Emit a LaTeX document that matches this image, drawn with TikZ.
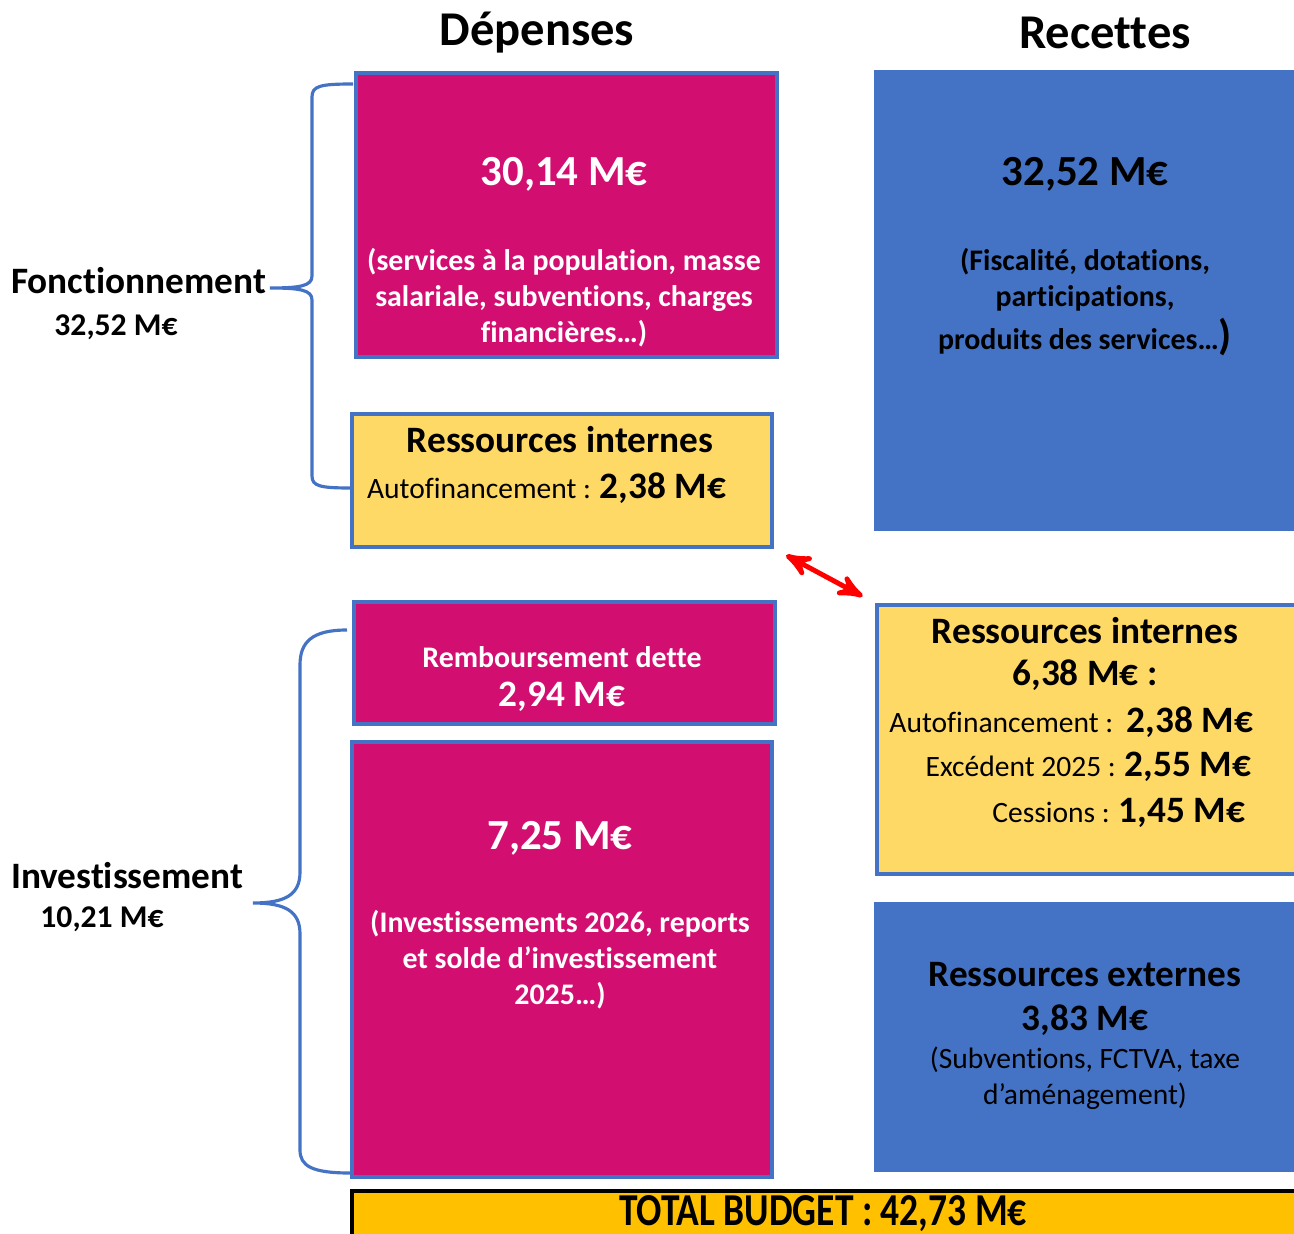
\documentclass[tikz,border=0pt]{standalone}
\usepackage{fontspec}
\setmainfont[Ligatures=NoCommon]{Carlito}
\usetikzlibrary{arrows, calc, positioning}

\definecolor{depmag}{HTML}{D20F70}
\definecolor{recblue}{HTML}{4472C4}
\definecolor{resyel}{HTML}{FFD966}
\definecolor{totyel}{HTML}{FFC000}

\begin{document}
\begin{tikzpicture}[x=0.01cm, y=-0.01cm, >=stealth', semithick,
  box/.style={draw=recblue, line width=1pt, inner sep=0pt, anchor=north west},
  depbox/.style={box, fill=depmag},
  recbox/.style={box, fill=recblue},
  resbox/.style={box, fill=resyel},
  title/.style={font=\fontsize{13.8}{16}\bfseries\selectfont},
  big/.style={font=\fontsize{12.2}{14}\bfseries\selectfont},
  mid/.style={font=\fontsize{10.6}{13}\bfseries\selectfont},
  small/.style={font=\fontsize{8.5}{10.2}\bfseries\selectfont, align=center},
  plain/.style={font=\fontsize{8.4}{10.2}\selectfont, align=center},
  brace/.style={draw=recblue, line width=0.9pt},
  white/.style={text=white}]

  \useasboundingbox (0,0) rectangle (1294,1234);

  % column titles
  \node[title] (dep) at (537,33) {Dépenses};
  \node[title] (rec) at (1105,33) {Recettes};

  % depenses
  \node[depbox, minimum width=4.21cm, minimum height=2.84cm] (fonct) at (354,71) {};
  \node[resbox, minimum width=4.20cm, minimum height=1.33cm] (intl) at (350,412) {};
  \node[depbox, minimum width=4.21cm, minimum height=1.22cm] (dette) at (352,600) {};
  \node[depbox, minimum width=4.20cm, minimum height=4.35cm] (invd) at (350,740) {};

  % recettes
  \node[recbox, minimum width=4.20cm, minimum height=4.57cm] (frec) at (874,70) {};
  \node[resbox, minimum width=4.19cm, minimum height=2.69cm] (intr) at (875,603) {};
  \node[recbox, minimum width=4.20cm, minimum height=2.66cm] (extr) at (874,902) {};

  % total
  \node[box, draw=black, fill=totyel, minimum width=9.44cm, minimum height=0.60cm] (total) at (350,1189) {};
  \node[font=\fontsize{13}{15}\bfseries\selectfont] (totaltxt) at (823,1214)
    {\scalebox{0.82}[1]{TOTAL BUDGET : 42,73 M€}};

  % texts, depenses
  \node[big, white] (v1) at (564,174) {30,14 M€};
  \node[small, white] (t1) at (564,298) {(services à la population, masse\\salariale, subventions, charges\\financières…)};
  \node[mid] (rl) at (560,440) {Ressources internes};
  \node[plain, anchor=west, inner sep=0pt] (afl) at (366,488) {Autofinancement : \textbf{\fontsize{10.6}{13}\selectfont 2,38 M€}};
  \node[small, white] (rd) at (562,657) {Remboursement dette};
  \node[mid, white] (vd) at (562,697) {2,94 M€};
  \node[big, white] (v2) at (560,838) {7,25 M€};
  \node[small, white] (t2) at (560,960) {(Investissements 2026, reports\\et solde d’investissement\\2025…)};

  % texts, recettes
  \node[big] (v3) at (1085,174) {32,52 M€};
  \node[small] (t3) at (1085,302) {(Fiscalité, dotations,\\participations,\\[1pt]produits des services…{\fontsize{12}{12}\selectfont)}};
  \node[mid] (rr) at (1085,631) {Ressources internes};
  \node[mid] (vr) at (1085,675) {6,38 M€ :};
  \node[plain, anchor=east, inner sep=0pt] (a1) at (1254,722) {Autofinancement :\ \ \textbf{\fontsize{10.6}{13}\selectfont 2,38 M€}};
  \node[plain, anchor=east, inner sep=0pt] (a2) at (1252,767) {Excédent 2025 : \textbf{\fontsize{10.6}{13}\selectfont 2,55 M€}};
  \node[plain, anchor=east, inner sep=0pt] (a3) at (1246,813) {Cessions : \textbf{\fontsize{10.6}{13}\selectfont 1,45 M€}};
  \node[mid] (re) at (1085,975) {Ressources externes};
  \node[mid] (ve) at (1085,1020) {3,83 M€};
  \node[plain] (te) at (1085,1078) {(Subventions, FCTVA, taxe\\d’aménagement)};

  % side labels
  \node[mid, anchor=west, inner sep=0pt] (fl) at (10,281) {Fonctionnement};
  \node[font=\fontsize{9}{11}\bfseries\selectfont] (fv) at (116,327) {32,52 M€};
  \node[mid, anchor=west, inner sep=0pt] (il) at (10,876) {Investissement};
  \node[font=\fontsize{9}{11}\bfseries\selectfont] (iv) at (102,919) {10,21 M€};

  % braces
  \coordinate (ftip) at (270,288);
  \coordinate (itip) at (253,903);
  \draw[brace] (353,84) .. controls (320,84) and (312,86) .. (312,97) -- (312,276)
    .. controls (312,286) and (300,288) .. (ftip)
    .. controls (300,288) and (312,290) .. (312,300) -- (312,476)
    .. controls (312,486) and (320,488) .. (350,488);
  \draw[brace] (347,630) .. controls (312,630) and (300,642) .. (300,665) -- (300,872)
    .. controls (300,895) and (285,903) .. (itip)
    .. controls (285,903) and (300,911) .. (300,934) -- (300,1150)
    .. controls (300,1166) and (312,1173) .. (350,1173);

  % internal resources link
  \draw[<->, red, line width=1.4pt, shorten <=0.14cm, shorten >=0.14cm]
    (intl.south east) -- (intr.north west);
\end{tikzpicture}
\end{document}
